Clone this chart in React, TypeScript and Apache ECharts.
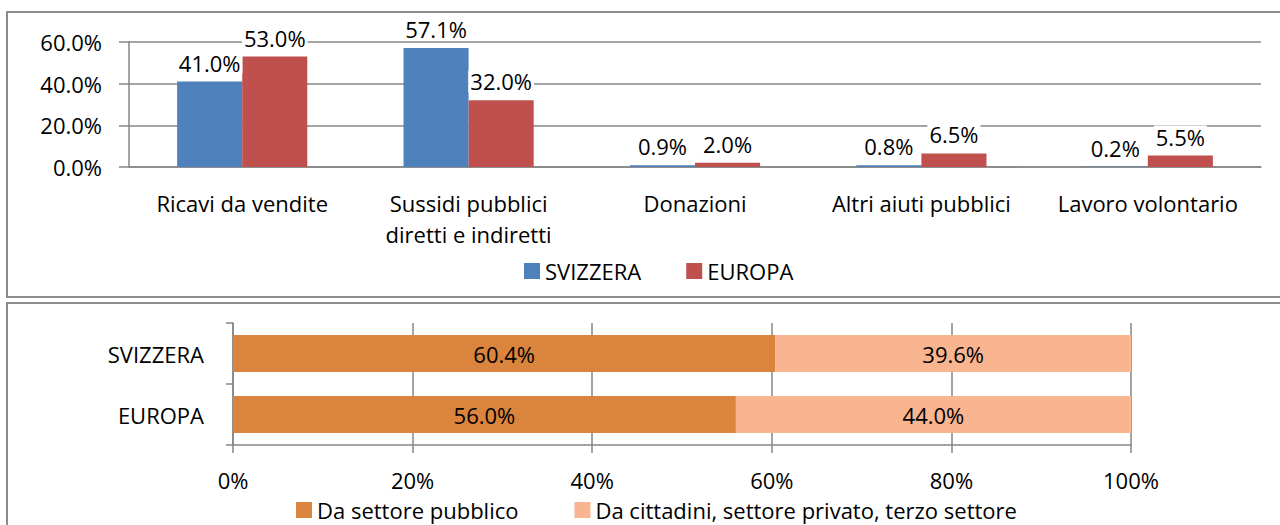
import React, { useEffect, useRef } from "react";
import * as echarts from "echarts";

const categories = [
  "Ricavi da vendite",
  "Sussidi pubblici\ndiretti e indiretti",
  "Donazioni",
  "Altri aiuti pubblici",
  "Lavoro volontario",
];
const svizzera = [41.0, 57.1, 0.9, 0.8, 0.2];
const europa = [53.0, 32.0, 2.0, 6.5, 5.5];

const regions = ["SVIZZERA", "EUROPA"];
const pubblico = [60.4, 56.0];
const privato = [39.6, 44.0];

const FONT = "Open Sans";
const FS = 22;
const GRID = "#868686";

export default function App() {
  const ref = useRef<HTMLDivElement>(null);
  useEffect(() => {
    const chart = echarts.init(ref.current!, null, { renderer: "svg" });
    const txt = { fontFamily: FONT, fontSize: FS, color: "#000" };
    const tight = { ...txt, lineHeight: 22 };
    const topLabel = {
      show: true,
      position: "top",
      distance: 8,
      ...txt,
      backgroundColor: "#fff",
      padding: [0, 2],
      formatter: (p: any) => p.value.toFixed(1) + "%",
    };
    chart.setOption({
      animation: false,
      backgroundColor: "#fff",
      textStyle: { fontFamily: FONT },
      graphic: [
        {
          type: "rect",
          shape: { x: 7, y: 12, width: 1290, height: 285 },
          style: { fill: "none", stroke: "#8c8c8c", lineWidth: 2 },
          z: -1,
        },
        {
          type: "rect",
          shape: { x: 7, y: 303, width: 1290, height: 240 },
          style: { fill: "none", stroke: "#8c8c8c", lineWidth: 2 },
          z: -1,
        },
      ],
      legend: [
        {
          data: ["SVIZZERA", "EUROPA"],
          left: 519,
          top: 255,
          icon: "rect",
          itemWidth: 16,
          itemHeight: 16,
          itemGap: 45,
          textStyle: tight,
        },
        {
          data: ["Da settore pubblico", "Da cittadini, settore privato, terzo settore"],
          left: 291,
          top: 494,
          icon: "rect",
          itemWidth: 16,
          itemHeight: 16,
          itemGap: 56,
          textStyle: tight,
        },
      ],
      grid: [
        { left: 129, top: 42, width: 1132, height: 125 },
        { left: 233, top: 323, width: 898, height: 122 },
      ],
      xAxis: [
        {
          type: "category",
          gridIndex: 0,
          data: categories,
          axisLine: { lineStyle: { color: GRID, width: 1.5 } },
          axisTick: { length: 8, lineStyle: { color: GRID, width: 1.5 } },
          axisLabel: { ...txt, margin: 20, lineHeight: 31, interval: 0 },
        },
        {
          type: "value",
          gridIndex: 1,
          min: 0,
          max: 100,
          interval: 20,
          axisLine: { show: true, lineStyle: { color: GRID, width: 1.5 } },
          axisTick: { show: true, length: 8, lineStyle: { color: GRID, width: 1.5 } },
          splitLine: { lineStyle: { color: GRID, width: 1.5 } },
          axisLabel: { ...tight, margin: 24, formatter: "{value}%" },
        },
      ],
      yAxis: [
        {
          type: "value",
          gridIndex: 0,
          min: 0,
          max: 60,
          interval: 20,
          axisLine: { show: true, lineStyle: { color: GRID, width: 1.5 } },
          axisTick: { show: true, length: 10, lineStyle: { color: GRID, width: 1.5 } },
          splitLine: { lineStyle: { color: GRID, width: 1.5 } },
          axisLabel: { ...txt, margin: 27, formatter: (v: number) => v.toFixed(1) + "%" },
        },
        {
          type: "category",
          gridIndex: 1,
          data: regions,
          inverse: true,
          axisLine: { show: true, lineStyle: { color: GRID, width: 1.5 } },
          axisTick: { show: true, length: 7, lineStyle: { color: GRID, width: 1.5 } },
          axisLabel: { ...txt, margin: 29 },
        },
      ],
      series: [
        {
          name: "SVIZZERA",
          type: "bar",
          xAxisIndex: 0,
          yAxisIndex: 0,
          data: svizzera,
          barGap: "0%",
          barCategoryGap: "42.5%",
          itemStyle: { color: "#4F81BD" },
          label: topLabel,
        },
        {
          name: "EUROPA",
          type: "bar",
          xAxisIndex: 0,
          yAxisIndex: 0,
          data: europa,
          barGap: "0%",
          barCategoryGap: "42.5%",
          itemStyle: { color: "#C0504D" },
          label: topLabel,
        },
        {
          name: "Da settore pubblico",
          type: "bar",
          xAxisIndex: 1,
          yAxisIndex: 1,
          stack: "tot",
          data: pubblico,
          barCategoryGap: "39%",
          itemStyle: { color: "#DB843D" },
          label: {
            show: true,
            position: "inside",
            ...txt,
            formatter: (p: any) => p.value.toFixed(1) + "%",
          },
        },
        {
          name: "Da cittadini, settore privato, terzo settore",
          type: "bar",
          xAxisIndex: 1,
          yAxisIndex: 1,
          stack: "tot",
          data: privato,
          barCategoryGap: "39%",
          itemStyle: { color: "#F9B490" },
          label: {
            show: true,
            position: "inside",
            ...txt,
            formatter: (p: any) => p.value.toFixed(1) + "%",
          },
        },
      ],
    });
    return () => chart.dispose();
  }, []);
  return (
    <div
      ref={ref}
      style={{ position: "absolute", left: 0, top: 0, width: 1280, height: 525 }}
    />
  );
}
